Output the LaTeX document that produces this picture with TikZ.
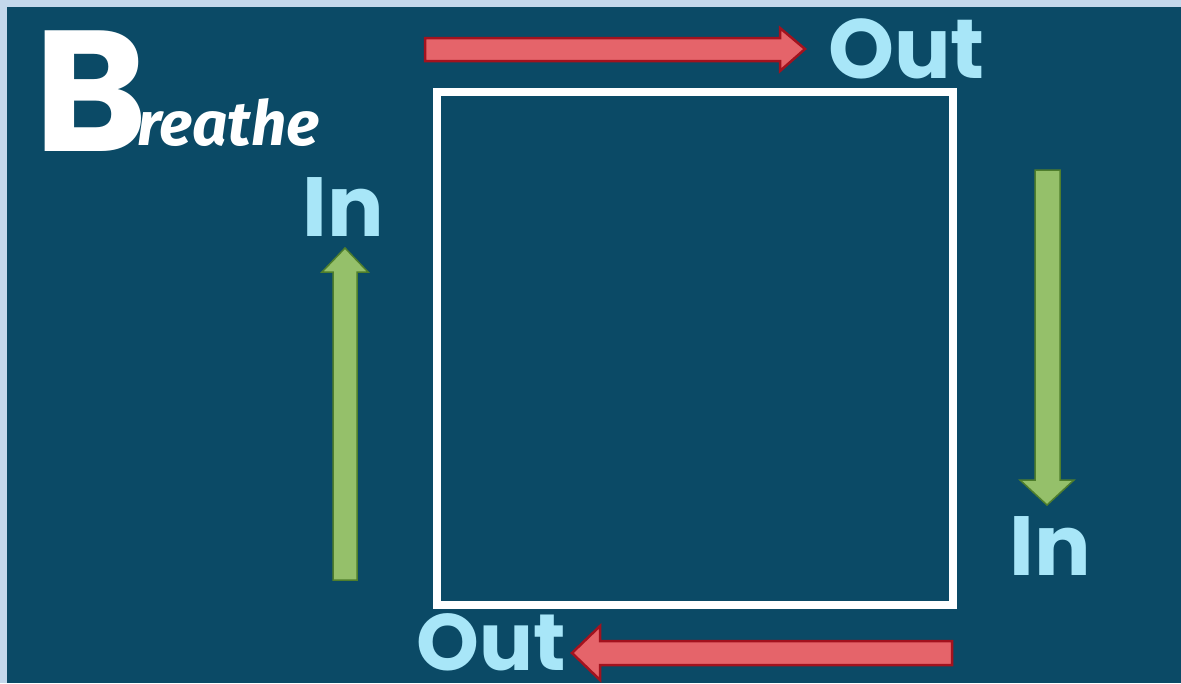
\documentclass[tikz,border=0pt]{standalone}
\usepackage{fontspec}
\setmainfont{Poppins}
\newfontfamily\handfont{Fira Sans}
\definecolor{bgdark}{HTML}{0B4A66}
\definecolor{bgframe}{HTML}{C4D8EB}
\definecolor{lbl}{HTML}{A8E6F8}
\definecolor{redfill}{HTML}{E5646A}
\definecolor{redline}{HTML}{A3121E}
\definecolor{grnfill}{HTML}{95C06A}
\definecolor{grnline}{HTML}{4F7E2C}
\tikzset{
  lblnode/.style={text=lbl, font=\bfseries\fontsize{84}{84}\selectfont, inner sep=0pt, anchor=base},
  redarrow/.style={fill=redfill, draw=redline, line width=2.5pt, line join=miter},
  grnarrow/.style={fill=grnfill, draw=grnline, line width=1.5pt, line join=miter},
}
\begin{document}
\begin{tikzpicture}[x=1pt,y=-1pt]
\useasboundingbox (0,0) rectangle (1181,683);
\fill[bgframe] (0,0) rectangle (1181,683);
\fill[bgdark] (7,7) rectangle (1181,683);
% square
\draw[white, line width=8pt] (437,92) rectangle (953,605);
% title
\node[text=white, font=\bfseries\fontsize{172}{172}\selectfont, inner sep=0pt, anchor=base west] (B) at (34,151) {B};
\node[text=white, font=\handfont\bfseries\itshape\fontsize{62}{62}\selectfont, inner sep=0pt, anchor=base west] (reathe) at (137,145) {reathe};
% top red arrow
\draw[redarrow] (425,38) -- (780,38) -- (780,28) -- (805,49) -- (780,71) -- (780,61) -- (425,61) -- cycle;
\node[lblnode, anchor=base west] (outtop) at (828,78) {Out};
% bottom red arrow
\draw[redarrow] (952,641) -- (600,641) -- (600,626) -- (572,653) -- (600,680) -- (600,665) -- (952,665) -- cycle;
\node[lblnode, font=\bfseries\fontsize{80}{80}\selectfont, anchor=base west] (outbot) at (416,670) {Out};
% left green arrow
\draw[grnarrow] (333,580) -- (333,272) -- (322,272) -- (345,248) -- (368,272) -- (357,272) -- (357,580) -- cycle;
\node[lblnode] (inleft) at (343,236) {In};
% right green arrow
\draw[grnarrow] (1035,170) -- (1035,480) -- (1020,480) -- (1047,505) -- (1074,480) -- (1060,480) -- (1060,170) -- cycle;
\node[lblnode] (inright) at (1050,575) {In};
\end{tikzpicture}
\end{document}
